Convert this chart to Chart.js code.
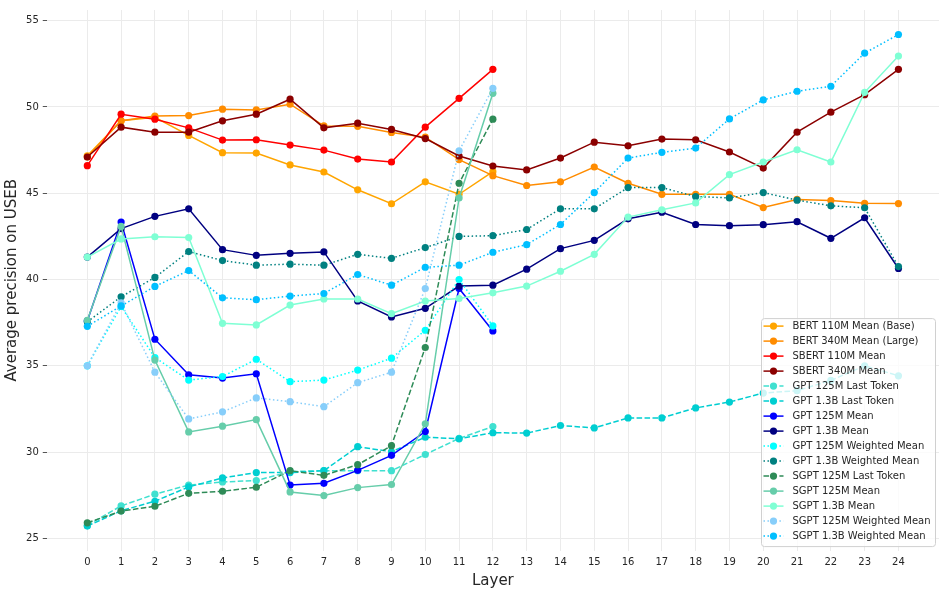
<!DOCTYPE html>
<html>
<head>
<meta charset="utf-8">
<script src="https://cdn.jsdelivr.net/npm/chart.js@4.4.1/dist/chart.umd.min.js"></script>
<style>
html,body{margin:0;padding:0;background:#fff;}
#wrap{width:945px;height:594px;position:relative;}
</style>
</head>
<body>
<div id="wrap"><canvas id="c" width="945" height="594"></canvas></div>
<script>
// ---- data ----
const layers = [0,1,2,3,4,5,6,7,8,9,10,11,12,13,14,15,16,17,18,19,20,21,22,23,24];
const yTicks = [25,30,35,40,45,50,55];

const bert110Mean = [47.17,49.2,49.4,48.35,47.35,47.33,46.64,46.23,45.2,44.39,45.66,44.94,46.25];
const bert340Mean = [47.1,49.2,49.47,49.5,49.87,49.83,50.16,48.9,48.88,48.52,48.25,46.95,46.02,45.45,45.66,46.52,45.58,44.94,44.94,44.94,44.17,44.64,44.58,44.42,44.4];
const sbert110Mean = [46.6,49.58,49.29,48.79,48.08,48.1,47.79,47.5,46.98,46.81,48.83,50.5,52.18];
const sbert340Mean = [47.1,48.83,48.54,48.54,49.2,49.58,50.45,48.79,49.06,48.7,48.17,47.16,46.58,46.35,47.04,47.96,47.75,48.14,48.1,47.39,46.46,48.54,49.7,50.71,52.18];
const gpt125Last = [25.75,26.88,27.56,28.09,28.27,28.35,28.87,28.92,28.92,28.92,29.86,30.79,31.48];
const gpt13Last = [25.71,26.6,27.15,27.98,28.5,28.81,28.81,28.92,30.31,30.02,30.86,30.77,31.12,31.1,31.54,31.4,31.98,31.98,32.56,32.9,33.42,33.56,34.15,35.0,34.42];
const gpt125Mean = [37.6,43.33,36.54,34.48,34.29,34.54,28.09,28.19,28.94,29.81,31.19,39.48,37.02];
const gpt13Mean = [41.3,42.95,43.66,44.1,41.73,41.4,41.52,41.6,38.76,37.83,38.33,39.62,39.67,40.6,41.79,42.27,43.52,43.9,43.19,43.12,43.18,43.35,42.39,43.58,40.64];
const gpt125WMean = [35.0,38.44,35.48,34.17,34.38,35.38,34.08,34.17,34.75,35.44,37.06,40.0,37.31];
const gpt13WMean = [37.55,39.0,40.12,41.62,41.1,40.83,40.89,40.83,41.46,41.23,41.85,42.5,42.54,42.9,44.1,44.1,45.33,45.33,44.81,44.73,45.04,44.6,44.27,44.16,40.75];
const sgpt125Last = [25.9,26.58,26.86,27.61,27.73,27.96,28.92,28.65,29.27,30.37,36.06,45.58,49.29];
const sgpt125Mean = [37.64,43.08,35.33,31.17,31.5,31.88,27.69,27.48,27.94,28.12,31.64,44.73,50.79];
const sgpt13Mean = [41.3,42.35,42.48,42.43,37.46,37.37,38.52,38.87,38.87,38.02,38.75,38.9,39.23,39.62,40.48,41.46,43.62,44.04,44.44,46.08,46.81,47.52,46.81,50.85,52.95];
const sgpt125WMean = [35.0,38.65,34.63,31.92,32.33,33.14,32.92,32.63,34.02,34.63,39.48,47.46,51.08];
const sgpt13WMean = [37.29,38.47,39.6,40.52,38.94,38.83,39.04,39.19,40.29,39.67,40.71,40.83,41.58,42.02,43.19,45.04,47.04,47.37,47.62,49.31,50.41,50.91,51.2,53.12,54.2];

const seriesNames = ["BERT 110M Mean (Base)","BERT 340M Mean (Large)","SBERT 110M Mean","SBERT 340M Mean",
  "GPT 125M Last Token","GPT 1.3B Last Token","GPT 125M Mean","GPT 1.3B Mean",
  "GPT 125M Weighted Mean","GPT 1.3B Weighted Mean","SGPT 125M Last Token","SGPT 125M Mean",
  "SGPT 1.3B Mean","SGPT 125M Weighted Mean","SGPT 1.3B Weighted Mean"];
const seriesValues = [bert110Mean,bert340Mean,sbert110Mean,sbert340Mean,gpt125Last,gpt13Last,gpt125Mean,gpt13Mean,
  gpt125WMean,gpt13WMean,sgpt125Last,sgpt125Mean,sgpt13Mean,sgpt125WMean,sgpt13WMean];
const seriesColors = ["#FFA500","#FF8C00","#FF0000","#8B0000","#40E0D0","#00CED1","#0000FF","#000080",
  "#00FFFF","#008080","#2E8B57","#66CDAA","#7FFFD4","#87CEFA","#00BFFF"];
const seriesStyles = ["solid","solid","solid","solid","dashed","dashed","solid","solid",
  "dotted","dotted","dashed","solid","solid","dotted","dotted"];

// ---- chart ----
const dashMap = {solid:[], dashed:[5.55,2.4], dotted:[1.5,2.475]};
const FONT = "'DejaVu Sans', sans-serif";
const TXT = "#262626";

const datasets = seriesNames.map((name,i)=>({
  label: name,
  data: seriesValues[i].map((v,j)=>({x: layers[j], y: v})),
  borderColor: seriesColors[i],
  backgroundColor: seriesColors[i],
  pointBackgroundColor: seriesColors[i],
  pointBorderColor: seriesColors[i],
  pointBorderWidth: 0,
  pointRadius: 3.6,
  borderWidth: 1.5,
  borderDash: dashMap[seriesStyles[i]],
  tension: 0,
  fill: false,
  order: seriesNames.length - i,
  _style: seriesStyles[i]
}));

const boxLegend = {
  id: 'boxLegend',
  afterDraw(chart){
    const ctx = chart.ctx;
    const ca = chart.chartArea;
    const w = 174, h = 228;
    const x0 = ca.right - 4 - w, y0 = ca.bottom - 4.5 - h;
    ctx.save();
    ctx.beginPath();
    ctx.roundRect(x0+0.5, y0+0.5, w, h, 3);
    ctx.fillStyle = 'rgba(255,255,255,0.8)';
    ctx.fill();
    ctx.strokeStyle = '#d0d0d0';
    ctx.lineWidth = 1;
    ctx.stroke();
    ctx.font = "10px " + FONT;
    ctx.textBaseline = 'middle';
    ctx.textAlign = 'left';
    chart.data.datasets.forEach((ds,i)=>{
      const cy = y0 + 8 + i*15;
      const lx = x0 + 2.5;
      ctx.beginPath();
      ctx.setLineDash(ds.borderDash);
      ctx.strokeStyle = ds.borderColor;
      ctx.lineWidth = 1.5;
      ctx.moveTo(lx, cy); ctx.lineTo(lx+20, cy);
      ctx.stroke();
      ctx.setLineDash([]);
      ctx.beginPath();
      ctx.arc(lx+10, cy, 3.6, 0, Math.PI*2);
      ctx.fillStyle = ds.borderColor;
      ctx.fill();
      ctx.fillStyle = TXT;
      ctx.fillText(ds.label, lx + 29, cy + 0.5);
    });
    ctx.restore();
  }
};

new Chart(document.getElementById('c'), {
  type: 'line',
  data: { datasets },
  options: {
    responsive: false,
    animation: false,
    devicePixelRatio: 1,
    layout: { padding: { top: 8, right: 6, left: 0, bottom: 0 } },
    plugins: { legend: { display: false }, tooltip: { enabled: false } },
    scales: {
      x: {
        type: 'linear',
        min: -1.2, max: 25.2,
        border: { display: false },
        grid: { color: '#ebebeb', lineWidth: 1, drawTicks: false },
        afterBuildTicks: (s) => { s.ticks = layers.map(v => ({value: v})); },
        afterFit: (s) => { s.height = 43.4; },
        ticks: { color: TXT, font: { family: FONT, size: 10 }, padding: 6, maxRotation: 0, autoSkip: false },
        title: { display: true, text: 'Layer', color: TXT, font: { family: FONT, size: 15 }, padding: { top: 0, bottom: 4 } }
      },
      y: {
        type: 'linear',
        min: 24.29, max: 55.62,
        border: { display: false },
        grid: { color: '#ebebeb', lineWidth: 1, drawTicks: true, tickLength: 4, tickColor: '#555' },
        afterBuildTicks: (s) => { s.ticks = yTicks.map(v => ({value: v})); },
        afterFit: (s) => { s.width = 46.75; },
        ticks: { color: TXT, font: { family: FONT, size: 10 }, padding: 4 },
        title: { display: true, text: 'Average precision on USEB', color: TXT, font: { family: FONT, size: 15 }, padding: { top: 3, bottom: 0 } }
      }
    }
  },
  plugins: [boxLegend]
});
</script>
</body>
</html>
